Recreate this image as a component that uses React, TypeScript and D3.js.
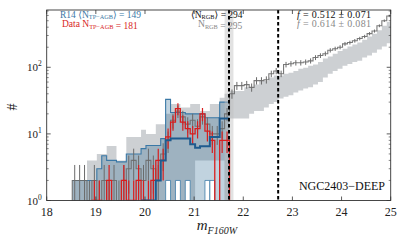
import React from 'react';
import * as d3 from 'd3';

// Luminosity function, NGC2403-DEEP: data vs. R14 model, log counts per 0.1 mag bin.

const W = 407;
const H = 244;
const LEFT = 46.7;
const RIGHT = 390.7;
const TOP = 10;
const BOTTOM = 200.5;

const BIN_START = 18.52;
const BIN_WIDTH = 0.1;

// all observed stars (grey histogram with error bars), 18.5 -> 25.0
const dataAll = [
  2, 2, 2, 1, 2, 1, 2, 1, 2, 1, 2, 3, 4, 3, 2, 4, 3, 2, 5, 8, 16, 22, 18, 14, 16, 13, 18, 14, 10, 10, 12, 20,
  40, 53, 53, 55, 50, 63, 63, 65, 80, 88, 80, 110, 113, 117, 117, 120, 125, 140, 150, 160, 180, 190, 200, 225,
  235, 250, 270, 290, 320, 350, 420, 500, 590,
];
// TP-AGB data (red), 18.5 -> 21.7
const dataTpagb = [
  0, 0, 0, 0, 1, 1, 0, 2, 0, 0, 2, 1, 1, 2, 1, 1, 2, 4, 4, 9, 15, 24, 15, 12, 10, 12, 20, 11, 8, 0, 8, 8,
];
// light grey model band
const greyLo = [
  0, 0, 0, 0, 0, 0, 0, 0, 0, 0, 0, 0, 0, 0, 0, 0, 0, 0, 0, 0, 0, 0, 0, 0, 0, 4, 4, 4, 4, 4, 4, 0,
  17, 17, 17, 17, 20, 22, 22, 25, 28, 30, 34, 36, 38, 42, 45, 48, 50, 55, 60, 70, 80, 88, 95, 105, 112,
  120, 125, 140, 150, 165, 185, 205, 230,
];
const greyHi = [
  2, 2, 2, 4, 4, 5, 5, 6.6, 6.6, 4, 4, 9, 9, 9, 11.5, 10, 10, 14, 14, 20, 28, 28, 25, 25, 28, 28, 22, 22, 28,
  28, 35, 40,
  44, 44, 44, 50, 50, 55, 63, 63, 70, 75, 75, 80, 83, 88, 95, 98, 105, 110, 120, 135, 145, 160, 175, 190, 205,
  220, 235, 260, 290, 320, 360, 420, 480,
];
// R14 model TP-AGB range and median
const blueLo = [
  0, 0, 0, 0, 0, 0, 0, 0, 0, 0, 0, 0, 0, 0, 0, 0, 0, 0, 0, 2, 0, 2, 0, 2, 0, 0, 0, 2, 2, 0, 0, 0,
];
const blueHi = [
  2, 2, 2, 2, 2, 3, 4.7, 4, 4, 3.8, 3.8, 5, 5, 5, 6, 6.7, 6.7, 6.7, 8.5, 33, 21, 21, 21, 20, 20, 20, 20, 17.5,
  17.5, 17.5, 30, 30,
];
const blueMed = [
  null, null, null, null, null, null, null, null, null, null, null, null, null, null, 1, 1, 1, 2, 4, 8, 8.5,
  8.5, 8.5, 8.5, 7, 6.2, 6.5, 6.5, 9, 9, 17, 17,
];

const trgb = 21.71;
const trgbBand = [21.62, 21.8];
const faintLimit = 22.71;
const xTicks = [18, 19, 20, 21, 22, 23, 24, 25];
const yTicks = [1, 10, 100];
const yTickExp = ['0', '1', '2'];

const SERIF = '"Liberation Serif", "DejaVu Serif", serif';
const BRACKET_FONT = '"DejaVu Sans"';
const GREY_HIST = '#6b6b6b';
const RED = '#d81e1e';
const BLUE = '#3a78a6';
const BLUE_DARK = '#1f5b8e';

const x = d3.scaleLinear().domain([18, 25]).range([LEFT, RIGHT]);
const y = d3.scaleLog().domain([1, Math.pow(10, 2.86)]).range([BOTTOM, TOP]);
const yc = (v: number) => (v <= 0 ? BOTTOM + 5 : y(v));

const edge = (i: number) => BIN_START + i * BIN_WIDTH;

function stepPoints(vals: (number | null)[]) {
  const pts: [number, number][] = [];
  vals.forEach((v, i) => {
    if (v == null) return;
    pts.push([x(edge(i)), yc(v)]);
    pts.push([x(edge(i + 1)), yc(v)]);
  });
  return pts;
}

const line = d3.line<[number, number]>();

function stepOutline(vals: number[]) {
  const pts = stepPoints(vals);
  pts.unshift([pts[0][0], BOTTOM + 5]);
  pts.push([pts[pts.length - 1][0], BOTTOM + 5]);
  return line(pts) || '';
}

function band(lo: number[], hi: number[]) {
  const pts: { x: number; l: number; h: number }[] = [];
  lo.forEach((l, i) => {
    pts.push({ x: x(edge(i)), l: yc(l), h: yc(hi[i]) });
    pts.push({ x: x(edge(i + 1)), l: yc(l), h: yc(hi[i]) });
  });
  return (
    d3
      .area<{ x: number; l: number; h: number }>()
      .x((d) => d.x)
      .y0((d) => d.l)
      .y1((d) => d.h)(pts) || ''
  );
}

function ErrorBars({ vals, color, width }: { vals: number[]; color: string; width: number }) {
  return (
    <g stroke={color} strokeWidth={width}>
      {vals.map((v, i) => {
        if (v <= 0) return null;
        const cx = x(edge(i) + BIN_WIDTH / 2);
        const e = Math.sqrt(v);
        return <line key={i} x1={cx} x2={cx} y1={yc(v - e)} y2={yc(v + e)} />;
      })}
    </g>
  );
}

const minorY: number[] = [];
[1, 10, 100].forEach((d) => {
  for (let k = 2; k <= 9; k++) if (d * k < Math.pow(10, 2.86)) minorY.push(d * k);
});

// "N_sub = value", optionally "<N_sub> = value"
function Label({ sub, value, angle }: { sub: string; value: string; angle?: boolean }) {
  return (
    <>
      {angle ? <tspan fontFamily={BRACKET_FONT}>{'\u27E8'}</tspan> : null}
      <tspan>N</tspan>
      <tspan fontSize="6.3" dy="1.5">
        {sub}
      </tspan>
      <tspan dy="-1.5" fontFamily={angle ? BRACKET_FONT : undefined}>
        {angle ? '\u27E9' : ''}
      </tspan>
      <tspan>{`\u00A0=\u00A0${value}`}</tspan>
    </>
  );
}

export default function App() {
  const blueLowSteps = blueLo.map((v) => (v > 0 ? v : null));
  return (
    <svg width={W} height={H} style={{ position: 'absolute', left: 0, top: 0 }} fontFamily={SERIF}>
      <rect width={W} height={H} fill="white" />
      <defs>
        <clipPath id="plot">
          <rect x={LEFT} y={TOP} width={RIGHT - LEFT} height={BOTTOM - TOP} />
        </clipPath>
      </defs>
      <g clipPath="url(#plot)">
        <path d={band(greyLo, greyHi)} fill="#cdd0d3" />
        <path d={band(blueLo, blueHi)} fill="rgb(50,110,150)" fillOpacity={0.3} />
        <path d={line(stepPoints(blueHi)) || ''} fill="none" stroke={BLUE} strokeWidth={1.1} />
        {blueLowSteps.map((v, i) =>
          v == null ? null : (
            <path
              key={i}
              d={`M${x(edge(i))},${BOTTOM + 5}V${yc(v)}H${x(edge(i + 1))}V${BOTTOM + 5}`}
              fill="white"
              stroke={BLUE}
              strokeWidth={0.8}
            />
          ),
        )}
        <rect
          x={x(trgbBand[0])}
          y={TOP}
          width={x(trgbBand[1]) - x(trgbBand[0])}
          height={BOTTOM - TOP}
          fill="#bfbfbf"
          fillOpacity={0.45}
        />
        <path d={stepOutline(dataAll)} fill="none" stroke={GREY_HIST} strokeWidth={1.1} strokeOpacity={0.9} />
        <ErrorBars vals={dataAll} color={GREY_HIST} width={1} />
        <path d={stepOutline(dataTpagb)} fill="none" stroke={RED} strokeWidth={1.3} />
        <ErrorBars vals={dataTpagb} color={RED} width={1.2} />
        <path d={line(stepPoints(blueMed)) || ''} fill="none" stroke={BLUE_DARK} strokeWidth={2} />
        {[trgb, faintLimit].map((m) => (
          <line
            key={m}
            x1={x(m)}
            x2={x(m)}
            y1={TOP}
            y2={BOTTOM}
            stroke="black"
            strokeWidth={2}
            strokeDasharray="3.5,2.5"
          />
        ))}
      </g>

      {/* frame and ticks */}
      <rect x={LEFT} y={TOP} width={RIGHT - LEFT} height={BOTTOM - TOP} fill="none" stroke="#333" strokeWidth={0.9} />
      {xTicks.map((t) => (
        <g key={t} stroke="#333" strokeWidth={0.8}>
          <line x1={x(t)} x2={x(t)} y1={BOTTOM} y2={BOTTOM - 4} />
          <line x1={x(t)} x2={x(t)} y1={TOP} y2={TOP + 4} />
        </g>
      ))}
      {yTicks.map((t) => (
        <g key={t} stroke="#333" strokeWidth={0.8}>
          <line x1={LEFT} x2={LEFT + 4} y1={y(t)} y2={y(t)} />
          <line x1={RIGHT} x2={RIGHT - 4} y1={y(t)} y2={y(t)} />
        </g>
      ))}
      {minorY.map((t) => (
        <g key={t} stroke="#333" strokeWidth={0.6}>
          <line x1={LEFT} x2={LEFT + 2} y1={y(t)} y2={y(t)} />
          <line x1={RIGHT} x2={RIGHT - 2} y1={y(t)} y2={y(t)} />
        </g>
      ))}
      {xTicks.map((t) => (
        <text key={t} x={x(t)} y={BOTTOM + 15} textAnchor="middle" fontSize="12" fill="#222">
          {t}
        </text>
      ))}
      {yTicks.map((t, i) => (
        <text key={t} x={LEFT - 5} y={y(t) + 4} textAnchor="end" fontSize="11" fill="#222">
          10
          <tspan fontSize="7.5" dy="-5">
            {yTickExp[i]}
          </tspan>
        </text>
      ))}
      <text x={(LEFT + RIGHT) / 2 - 22} y={230} fontSize="15" fontStyle="italic" fill="#222">
        m
        <tspan fontSize="10" dy="4">
          F160W
        </tspan>
      </text>
      <text transform={`translate(17,107) rotate(-90)`} textAnchor="middle" fontSize="14" fill="#222">
        #
      </text>

      {/* annotations */}
      <text x={60} y={17.5} fontSize="9.5" fill={BLUE}>
        <tspan>R14 </tspan>
        <Label sub="TP−AGB" value="149" angle />
      </text>
      <text x={62} y={27} fontSize="9.5" fill={RED}>
        <tspan>Data </tspan>
        <Label sub="TP−AGB" value="181" />
      </text>
      <text x={191} y={17.5} fontSize="9.5" fill="#111">
        <Label sub="RGB" value="294" angle />
      </text>
      <text x={198} y={27} fontSize="9.5" fill="#888">
        <Label sub="RGB" value="295" />
      </text>
      <text x={297} y={17.5} fontSize="10" fill="#111" textLength={74}>
        <tspan fontStyle="italic">f</tspan> = 0.512 ± 0.071
      </text>
      <text x={297} y={27} fontSize="10" fill="#888" textLength={74}>
        <tspan fontStyle="italic">f</tspan> = 0.614 ± 0.081
      </text>
      <text x={385} y={190} textAnchor="end" fontSize="12" fill="#111">
        NGC2403−DEEP
      </text>
    </svg>
  );
}
